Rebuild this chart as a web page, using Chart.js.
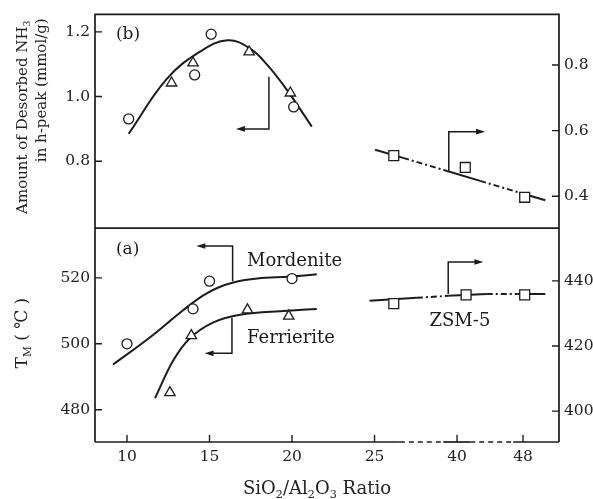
<!DOCTYPE html>
<html>
<head>
<meta charset="utf-8">
<script src="https://cdn.jsdelivr.net/npm/chart.js@4.4.1/dist/chart.umd.min.js"></script>
<style>
  html, body { margin: 0; padding: 0; background: #fff; }
  #wrap { width: 593px; height: 499px; }
</style>
</head>
<body>
<div id="wrap"><canvas id="c" width="593" height="499"></canvas></div>
<script>
// ---- SiO2/Al2O3 axis (broken above 25) ----
const xTickValues = [10, 15, 20, 25, 40, 48];
const xBreakSpans = [[29.6, 37.5], [41.6, 46.8]];   // dashed parts of the axis line

// ---- panel (b): desorbed NH3 in h-peak ----
const nh3LeftTicks = [0.8, 1.0, 1.2];
const nh3RightTicks = [0.4, 0.6, 0.8];
const mordNH3Ratio = [10.1, 14.1, 15.1, 20.1];
const mordNH3 = [0.931, 1.067, 1.193, 0.968];
const ferrNH3Ratio = [12.7, 14.0, 17.4, 19.9];
const ferrNH3 = [1.042, 1.104, 1.138, 1.011];
const zsmNH3Ratio = [28.5, 41, 48.2];
const zsmNH3 = [0.524, 0.488, 0.397];
const nh3CurveRatio = [10.1, 12.4, 14.4, 16.1, 17.5, 18.5, 19.7, 21.2];
const nh3Curve = [0.885, 1.054, 1.138, 1.174, 1.147, 1.098, 1.02, 0.907];
const zsmNH3LineRatio = [25.1, 30.2, 38.2, 42.8, 47.6, 50.7];
const zsmNH3Line = [0.542, 0.517, 0.477, 0.447, 0.411, 0.388];

// ---- panel (a): peak temperature TM ----
const tmLeftTicks = [480, 500, 520];
const tmRightTicks = [400, 420, 440];
const mordTmRatio = [10, 14, 15, 20];
const mordTm = [500, 510.6, 519, 519.8];
const ferrTmRatio = [12.6, 13.9, 17.3, 19.8];
const ferrTm = [485.2, 502.5, 510.3, 508.4];
const zsmTmRatio = [28.5, 41.1, 48.2];
const zsmTm = [433.0, 435.7, 435.7];
const mordCurveRatio = [9.15, 11.4, 13.4, 14.6, 15.5, 16.5, 17.9, 19.9, 21.5];
const mordCurve = [493.7, 502.0, 510.2, 514.6, 517.0, 518.7, 519.8, 520.4, 521.1];
const ferrCurveRatio = [11.7, 12.8, 13.8, 15.2, 16.85, 19.7, 21.5];
const ferrCurve = [483.5, 494.9, 501.6, 506.4, 508.8, 510.0, 510.6];
const zsmTmLineRatio = [24.7, 32.7, 38.4, 43.6, 47.3, 50.7];
const zsmTmLine = [433.9, 434.8, 435.4, 436.0, 436.0, 436.0];

// segments of the ZSM-5 fit lines drawn dash-dotted
const zsmDashedSegments = [false, true, false, true, false];

// ratio -> position on the broken axis
function axisPos(r) {
  if (r <= 25) return r;
  if (r <= 40) return 25 + (r - 25) / 3;
  return 30 + (r - 40) / 2;
}
function pts(rs, vs) { return rs.map((r, i) => ({ x: axisPos(r), y: vs[i] })); }

const INK = '#1c1c1c';
const SERIF = '"DejaVu Serif", serif';
const tickFont = { family: SERIF, size: 15.5 };

const marker = (extra) => Object.assign({
  showLine: false, borderColor: INK, backgroundColor: '#fff',
  pointBorderWidth: 1.3, pointBackgroundColor: '#fff', pointBorderColor: INK, order: 0
}, extra);
const curve = (extra) => Object.assign({
  showLine: true, pointRadius: 0, borderColor: INK, borderWidth: 2,
  tension: 0.4, order: 1
}, extra);
const dashedSeg = {
  borderDash: (ctx) => zsmDashedSegments[ctx.p0DataIndex] ? [6, 3, 2, 3] : undefined
};

const datasets = [
  marker({ label: 'Mordenite NH3', data: pts(mordNH3Ratio, mordNH3), yAxisID: 'yB', pointStyle: 'circle', pointRadius: 5 }),
  marker({ label: 'Ferrierite NH3', data: pts(ferrNH3Ratio, ferrNH3), yAxisID: 'yB', pointStyle: 'triangle', pointRadius: 6 }),
  marker({ label: 'ZSM-5 NH3', data: pts(zsmNH3Ratio, zsmNH3), yAxisID: 'yBr', pointStyle: 'rect', pointRadius: 7 }),
  marker({ label: 'Mordenite TM', data: pts(mordTmRatio, mordTm), yAxisID: 'yA', pointStyle: 'circle', pointRadius: 5 }),
  marker({ label: 'Ferrierite TM', data: pts(ferrTmRatio, ferrTm), yAxisID: 'yA', pointStyle: 'triangle', pointRadius: 6 }),
  marker({ label: 'ZSM-5 TM', data: pts(zsmTmRatio, zsmTm), yAxisID: 'yAr', pointStyle: 'rect', pointRadius: 7 }),
  curve({ label: 'NH3 curve', data: pts(nh3CurveRatio, nh3Curve), yAxisID: 'yB' }),
  curve({ label: 'ZSM-5 NH3 line', data: pts(zsmNH3LineRatio, zsmNH3Line), yAxisID: 'yBr', tension: 0, segment: dashedSeg }),
  curve({ label: 'Mordenite TM curve', data: pts(mordCurveRatio, mordCurve), yAxisID: 'yA' }),
  curve({ label: 'Ferrierite TM curve', data: pts(ferrCurveRatio, ferrCurve), yAxisID: 'yA' }),
  curve({ label: 'ZSM-5 TM line', data: pts(zsmTmLineRatio, zsmTmLine), yAxisID: 'yAr', tension: 0, segment: dashedSeg })
];

// bracket arrows: vertical from (x0,y0) to (x0,y1), then horizontal to x1 with an arrowhead
const brackets = [
  { axis: 'yB',  x0: 18.6, y0: 1.061, y1: 0.90,  x1: 16.6 },
  { axis: 'yBr', x0: 38.5, y0: 0.476, y1: 0.597, x1: 43.4 },
  { axis: 'yA',  x0: 16.4, y0: 519.0, y1: 529.7, x1: 14.2 },
  { axis: 'yA',  x0: 16.36, y0: 507.9, y1: 497.1, x1: 14.7 },
  { axis: 'yAr', x0: 38.4, y0: 436.0, y1: 445.8, x1: 43.2 }
];
// text labels placed in data space (left edge, baseline)
const labels = [
  { text: '(b)', axis: 'yB', x: 9.33, y: 1.178, size: 17 },
  { text: '(a)', axis: 'yA', x: 9.33, y: 527.2, size: 17 },
  { text: 'Mordenite', axis: 'yA', x: 17.27, y: 523.6, size: 18 },
  { text: 'Ferrierite', axis: 'yA', x: 17.27, y: 500.2, size: 18 },
  { text: 'ZSM-5', axis: 'yAr', x: 35.0, y: 426.0, size: 18 }
];

// draw text made of parts, some of them subscripts
function richWidth(ctx, parts, size) {
  let w = 0;
  for (const p of parts) {
    ctx.font = (p.sub ? size * 0.62 : size) + 'px ' + SERIF;
    w += ctx.measureText(p.t).width;
  }
  return w;
}
function drawRich(ctx, parts, x, y, size, align) {
  const w = richWidth(ctx, parts, size);
  let cx = align === 'center' ? x - w / 2 : (align === 'right' ? x - w : x);
  ctx.textAlign = 'left';
  ctx.textBaseline = 'alphabetic';
  for (const p of parts) {
    ctx.font = (p.sub ? size * 0.62 : size) + 'px ' + SERIF;
    ctx.fillText(p.t, cx, p.sub ? y + size * 0.22 : y);
    cx += ctx.measureText(p.t).width;
  }
}

const decor = {
  id: 'decor',
  afterDraw(chart) {
    const { ctx, chartArea: a, scales } = chart;
    const xs = scales.x;
    ctx.save();
    ctx.strokeStyle = INK;
    ctx.fillStyle = INK;
    ctx.lineWidth = 1.7;
    ctx.lineCap = 'butt';

    // frame
    const midY = scales.yA.top;
    ctx.beginPath();
    ctx.moveTo(a.left, a.bottom); ctx.lineTo(a.left, a.top); ctx.lineTo(a.right, a.top); ctx.lineTo(a.right, a.bottom);
    ctx.moveTo(a.left, midY); ctx.lineTo(a.right, midY);
    ctx.stroke();

    // bottom axis line with dashed breaks
    let cur = a.left;
    for (const [s, e] of xBreakSpans) {
      const ps = xs.getPixelForValue(axisPos(s)), pe = xs.getPixelForValue(axisPos(e));
      ctx.setLineDash([]);
      ctx.beginPath(); ctx.moveTo(cur, a.bottom); ctx.lineTo(ps, a.bottom); ctx.stroke();
      ctx.setLineDash([5, 4]);
      ctx.beginPath(); ctx.moveTo(ps, a.bottom); ctx.lineTo(pe, a.bottom); ctx.stroke();
      cur = pe;
    }
    ctx.setLineDash([]);
    ctx.beginPath(); ctx.moveTo(cur, a.bottom); ctx.lineTo(a.right, a.bottom); ctx.stroke();

    // inward tick marks
    const T = 7;
    ctx.lineWidth = 1.4;
    ctx.beginPath();
    for (const t of xs.ticks) {
      const px = xs.getPixelForValue(t.value);
      ctx.moveTo(px, a.bottom); ctx.lineTo(px, a.bottom - T);
    }
    for (const id of ['yB', 'yA']) {
      const s = scales[id];
      for (const t of s.ticks) { const py = s.getPixelForValue(t.value); ctx.moveTo(a.left, py); ctx.lineTo(a.left + T, py); }
    }
    for (const id of ['yBr', 'yAr']) {
      const s = scales[id];
      for (const t of s.ticks) { const py = s.getPixelForValue(t.value); ctx.moveTo(a.right, py); ctx.lineTo(a.right - T, py); }
    }
    ctx.stroke();

    // bracket arrows
    ctx.lineWidth = 1.5;
    for (const b of brackets) {
      const ys = scales[b.axis];
      const X0 = xs.getPixelForValue(axisPos(b.x0)), X1 = xs.getPixelForValue(axisPos(b.x1));
      const Y0 = ys.getPixelForValue(b.y0), Y1 = ys.getPixelForValue(b.y1);
      const dir = Math.sign(X1 - X0);
      ctx.beginPath();
      ctx.moveTo(X0, Y0); ctx.lineTo(X0, Y1); ctx.lineTo(X1 - dir * 6, Y1);
      ctx.stroke();
      ctx.beginPath();
      ctx.moveTo(X1, Y1); ctx.lineTo(X1 - dir * 9, Y1 - 2.8); ctx.lineTo(X1 - dir * 9, Y1 + 2.8); ctx.closePath();
      ctx.fill();
    }

    // in-plot labels
    for (const l of labels) {
      const ys = scales[l.axis];
      ctx.font = l.size + 'px ' + SERIF;
      ctx.textAlign = 'left';
      ctx.textBaseline = 'alphabetic';
      ctx.fillText(l.text, xs.getPixelForValue(axisPos(l.x)), ys.getPixelForValue(l.y));
    }

    // axis titles
    ctx.fillStyle = '#222';
    drawRich(ctx, [{ t: 'SiO' }, { t: '2', sub: true }, { t: '/Al' }, { t: '2', sub: true }, { t: 'O' }, { t: '3', sub: true }, { t: ' Ratio' }],
      (a.left + a.right) / 2 - 10, 494, 18, 'center');

    const topMid = (scales.yB.top + scales.yB.bottom) / 2;
    const botMid = (scales.yA.top + scales.yA.bottom) / 2;
    ctx.save();
    ctx.translate(27, topMid - 4); ctx.rotate(-Math.PI / 2);
    drawRich(ctx, [{ t: 'Amount of Desorbed NH' }, { t: '3', sub: true }], 0, 0, 15, 'center');
    ctx.restore();
    ctx.save();
    ctx.translate(46, topMid - 31); ctx.rotate(-Math.PI / 2);
    drawRich(ctx, [{ t: 'in h-peak (mmol/g)' }], 0, 0, 15, 'center');
    ctx.restore();
    ctx.save();
    ctx.translate(27, botMid - 2); ctx.rotate(-Math.PI / 2);
    drawRich(ctx, [{ t: 'T' }, { t: 'M', sub: true }, { t: ' ( ℃ )' }], 0, 0, 17, 'center');
    ctx.restore();

    ctx.restore();
  }
};

const noGrid = { display: false, drawTicks: false };
function yAxis(pos, weight, min, max, tickVals, decimals, width) {
  return {
    type: 'linear', position: pos, stack: pos, stackWeight: 1, weight: weight,
    min: min, max: max,
    afterBuildTicks: (s) => { s.ticks = tickVals.map(v => ({ value: v })); },
    ticks: {
      font: tickFont, color: '#222', padding: 5,
      callback: (v) => v.toFixed(decimals)
    },
    grid: noGrid, border: { display: false },
    afterFit: (s) => { s.width = width; }
  };
}

new Chart(document.getElementById('c'), {
  type: 'line',
  data: { datasets },
  options: {
    responsive: false,
    animation: false,
    layout: { padding: { top: 12, left: 0, right: 0, bottom: 0 } },
    plugins: { legend: { display: false }, tooltip: { enabled: false } },
    scales: {
      x: {
        type: 'linear', position: 'bottom', min: 8.06, max: 36.18,
        afterBuildTicks: (s) => { s.ticks = xTickValues.map(v => ({ value: axisPos(v) })); },
        ticks: { font: tickFont, color: '#222', padding: 6, autoSkip: false, maxRotation: 0,
                 callback: (v, i) => String(xTickValues[i]) },
        grid: noGrid, border: { display: false },
        afterFit: (s) => { s.height = 57; }
      },
      // left column: (b) on top, (a) below
      yB: yAxis('left', 2, 0.593, 1.2545, nh3LeftTicks, 1, 95),
      yA: yAxis('left', 1, 470.2, 535.1, tmLeftTicks, 0, 95),
      // right column
      yBr: yAxis('right', 1, 0.303, 0.9545, nh3RightTicks, 1, 34),
      yAr: yAxis('right', 2, 390.5, 456.2, tmRightTicks, 0, 34)
    }
  },
  plugins: [decor]
});
</script>
</body>
</html>
